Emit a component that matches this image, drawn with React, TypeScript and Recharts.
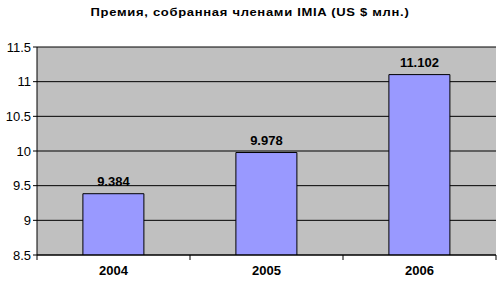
import React from "react";
import {
  BarChart,
  Bar,
  XAxis,
  YAxis,
  CartesianGrid,
  LabelList,
} from "recharts";

const years = ["2004", "2005", "2006"];
const premiums = [9.384, 9.978, 11.102];
const yTicks = [8.5, 9, 9.5, 10, 10.5, 11, 11.5];
const title = "Премия, собранная членами IMIA (US $ млн.)";

const data = years.map((year, i) => ({ year, value: premiums[i] }));

const font = "Arial, 'Liberation Sans', sans-serif";
const TICK_SIZE = 5;
const TICK_MARGIN = 6;

// excel-style category ticks: marks sit between categories, not under them
const YearTick = (props: any) => {
  const { x, y, payload, index, visibleTicksCount } = props;
  const half = payload?.offset ?? 0;
  const axisY = y - TICK_SIZE - TICK_MARGIN;
  const last = index === (visibleTicksCount ?? years.length) - 1;
  return (
    <g>
      <line x1={x - half} x2={x - half} y1={axisY} y2={axisY + TICK_SIZE} stroke="#000" />
      {last && (
        <line x1={x + half} x2={x + half} y1={axisY} y2={axisY + TICK_SIZE} stroke="#000" />
      )}
      <text
        x={x}
        y={y}
        dy="0.71em"
        textAnchor="middle"
        fill="#000"
        fontSize={13}
        fontWeight="bold"
        fontFamily={font}
      >
        {payload.value}
      </text>
    </g>
  );
};

export default function App() {
  return (
    <div
      style={{
        position: "absolute",
        left: 0,
        top: 0,
        width: 500,
        height: 283,
        background: "#fff",
        fontFamily: font,
      }}
    >
      <div
        style={{
          position: "absolute",
          top: 4,
          left: 0,
          width: 500,
          textAlign: "center",
          fontSize: 13,
          fontWeight: "bold",
          letterSpacing: 0.7,
          transform: "scaleY(0.9)",
        }}
      >
        {title}
      </div>
      <BarChart
        width={500}
        height={283}
        data={data}
        margin={{ top: 47, right: 4, bottom: 0, left: 0 }}
        barCategoryGap="30%"
      >
        <CartesianGrid
          vertical={false}
          fill="#C0C0C0"
          stroke="#000"
          strokeWidth={1}
          horizontalValues={yTicks}
        />
        <XAxis
          dataKey="year"
          axisLine={{ stroke: "#000" }}
          tickLine={false}
          tickSize={TICK_SIZE}
          tickMargin={TICK_MARGIN}
          height={28}
          tick={<YearTick />}
        />
        <YAxis
          domain={[8.5, 11.5]}
          ticks={yTicks}
          width={37}
          axisLine={{ stroke: "#000" }}
          tickLine={{ stroke: "#000" }}
          tickSize={4}
          tick={{ fill: "#000", fontSize: 13, fontFamily: font }}
          tickMargin={2}
          allowDataOverflow
        />
        <YAxis
          yAxisId="r"
          orientation="right"
          width={0}
          tick={false}
          tickLine={false}
          axisLine={{ stroke: "#808080" }}
        />
        <Bar
          dataKey="value"
          fill="#9999FF"
          stroke="#000"
          strokeWidth={1}
          isAnimationActive={false}
        >
          <LabelList
            dataKey="value"
            position="top"
            offset={8}
            fill="#000"
            fontSize={13}
            fontWeight="bold"
            fontFamily={font}
            formatter={(v: number) => v.toFixed(3)}
          />
        </Bar>
      </BarChart>
    </div>
  );
}
